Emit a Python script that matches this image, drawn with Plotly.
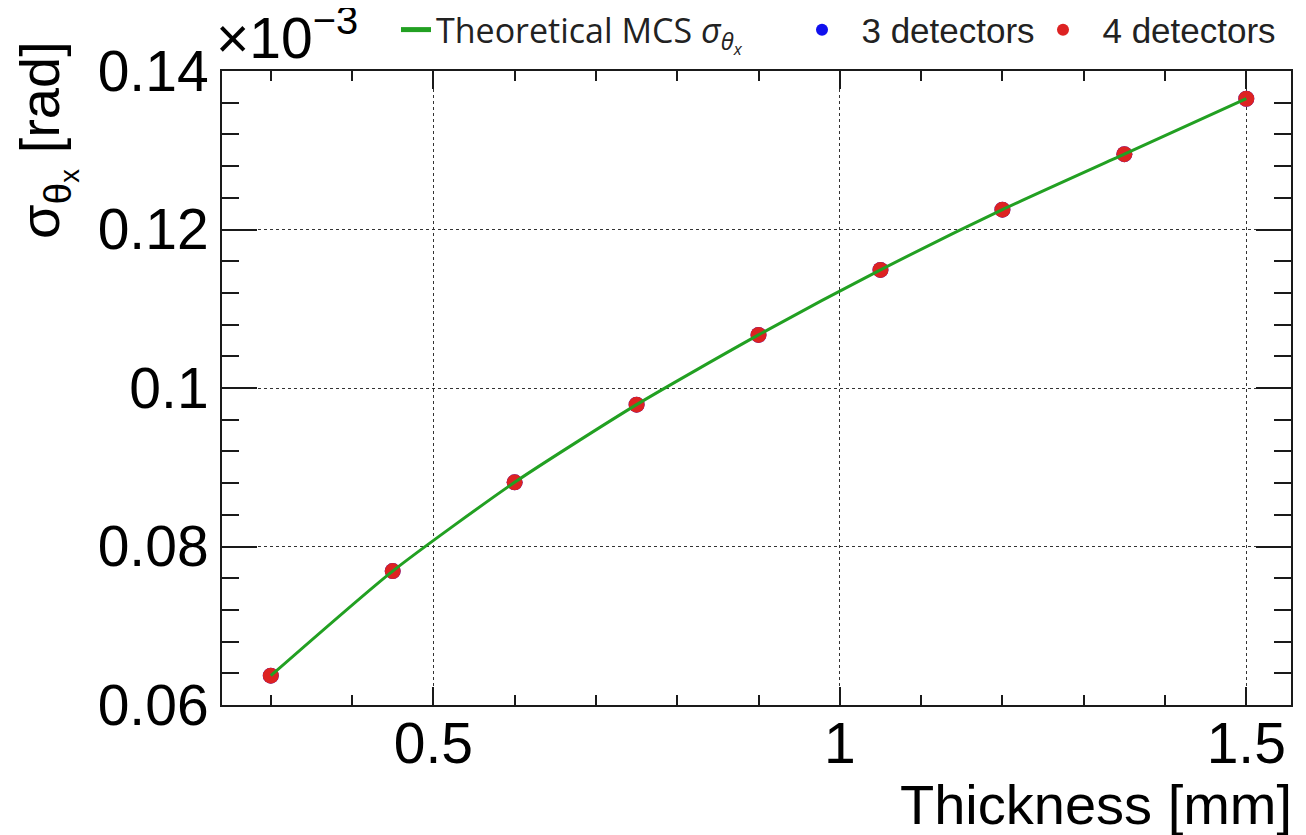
import plotly.graph_objects as go

# ---- data (values in units of 1e-3 rad, as labelled on the axis) ----
thickness_mm = [0.3, 0.45, 0.6, 0.75, 0.9, 1.05, 1.2, 1.35, 1.5]
sigma_theory = [0.0637, 0.0769, 0.0881, 0.0979, 0.1067, 0.1149, 0.1225, 0.1295, 0.1365]
sigma_3det = [0.0637, 0.0769, 0.0881, 0.0979, 0.1067, 0.1149, 0.1225, 0.1295, 0.1365]
sigma_4det = [0.0637, 0.0769, 0.0881, 0.0979, 0.1067, 0.1149, 0.1225, 0.1295, 0.1365]

x_tickvals = [0.5, 1.0, 1.5]
x_ticktext = ["0.5", "1", "1.5"]
y_tickvals = [0.06, 0.08, 0.10, 0.12, 0.14]
y_ticktext = ["0.06", "0.08", "0.1", "0.12", "0.14"]

# page body has an 8px default margin; lay out in screen pixels and compensate
OFF = 8
W, H = 1306 - OFF, 835 - OFF
L, R, T, B = 222, 1291, 71, 705  # plot frame in screen pixels


def px_x(p):
    return (p - L) / (R - L)


def px_y(p):
    return (B - p) / (B - T)


FONT = "Liberation Sans, Arial, Helvetica, sans-serif"
INK = "#1a1a1a"
NBSP2 = "\u00a0\u00a0"

fig = go.Figure()

fig.add_trace(go.Scatter(
    x=thickness_mm, y=sigma_3det, mode="markers", name=NBSP2 + "3 detectors",
    marker=dict(color="#1010ee", size=16), legend="legend2"))
fig.add_trace(go.Scatter(
    x=thickness_mm, y=sigma_4det, mode="markers", name=NBSP2 + "4 detectors",
    marker=dict(color="#dd2222", size=16), legend="legend3"))
fig.add_trace(go.Scatter(
    x=thickness_mm, y=sigma_theory, mode="lines",
    name="Theoretical MCS <i>σ</i><sub><i>θ</i><sub><i>x</i></sub></sub>",
    line=dict(color="#22a022", width=3, shape="spline", smoothing=0.6),
    legend="legend"))

axis_common = dict(
    showline=True, linewidth=2, linecolor=INK, mirror="ticks",
    ticks="inside", tickwidth=1.5, tickcolor=INK,
    showgrid=True, gridcolor="#333333", griddash="dot", gridwidth=1,
    zeroline=False, tickfont=dict(family=FONT, size=57, color="black"),
)

fig.update_xaxes(
    **axis_common, range=[0.24, 1.555], tickmode="array",
    tickvals=x_tickvals, ticktext=x_ticktext, ticklen=18,
    ticklabelstandoff=-12,
    minor=dict(dtick=0.1, tick0=0, ticks="inside", ticklen=10,
               tickwidth=1.5, tickcolor=INK, showgrid=False),
)
fig.update_yaxes(
    **axis_common, range=[0.06, 0.14], tickmode="array",
    tickvals=y_tickvals, ticktext=y_ticktext, ticklen=35,
    minor=dict(dtick=0.004, tick0=0, ticks="inside", ticklen=17,
               tickwidth=1.5, tickcolor=INK, showgrid=False),
)

legend_common = dict(orientation="h", bgcolor="rgba(0,0,0,0)",
                     borderwidth=0, yanchor="middle", xanchor="left",
                     itemsizing="constant")
fig.update_layout(
    width=W, height=H,
    margin=dict(l=L - OFF, r=W - (R - OFF), t=T - OFF, b=H - (B - OFF),
                pad=0, autoexpand=False),
    paper_bgcolor="white", plot_bgcolor="white",
    showlegend=True,
    legend=dict(**legend_common, x=px_x(396), y=px_y(30),
                font=dict(family="Open Sans, sans-serif", size=34, color="#222")),
    legend2=dict(**legend_common, x=px_x(802), y=px_y(30),
                 font=dict(family=FONT, size=35, color="#222")),
    legend3=dict(**legend_common, x=px_x(1043), y=px_y(30),
                 font=dict(family=FONT, size=35, color="#222")),
    annotations=[
        dict(text="×10<sup>−3</sup>", xref="paper", yref="paper",
             x=px_x(214), y=px_y(72), xanchor="left", yanchor="bottom",
             showarrow=False, font=dict(family=FONT, size=57, color="black")),
        dict(text="Thickness [mm]", xref="paper", yref="paper",
             x=px_x(1294), y=px_y(838), xanchor="right", yanchor="bottom",
             showarrow=False, font=dict(family=FONT, size=56, color="black")),
        dict(text="σ<sub>θ<sub>x</sub></sub> [rad]", xref="paper", yref="paper",
             x=px_x(46), y=px_y(140), xanchor="center", yanchor="middle",
             textangle=-90, showarrow=False,
             font=dict(family=FONT, size=56, color="black")),
    ],
)

fig.write_html("out.html")
